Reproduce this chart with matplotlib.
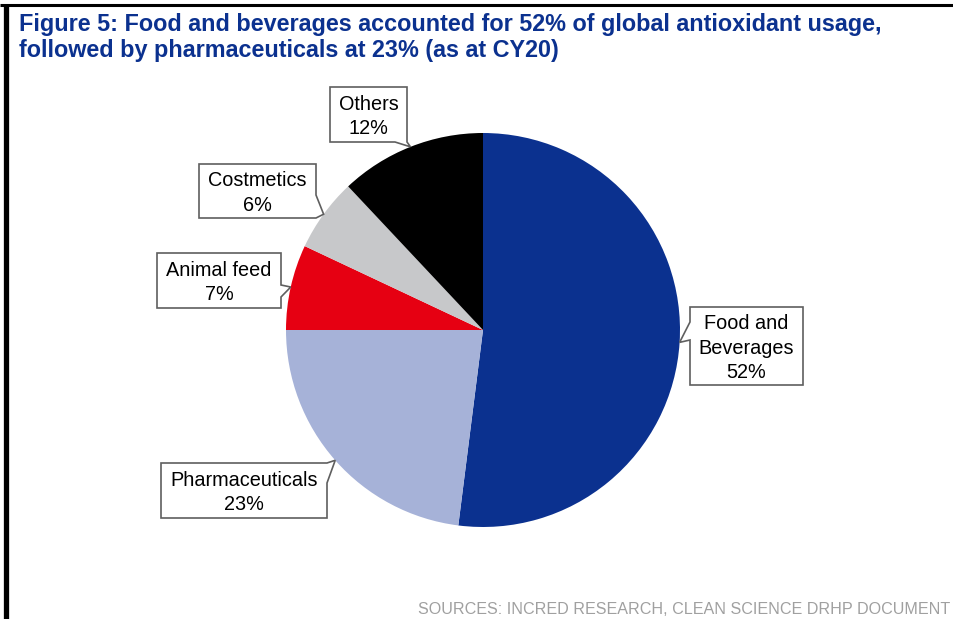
import matplotlib
matplotlib.use("Agg")
import numpy as np
import matplotlib.pyplot as plt
from matplotlib.patches import Polygon

plt.rcParams['font.family'] = ['Liberation Sans', 'DejaVu Sans']

# antioxidant usage by end market, CY20 (%)
segments = ["Food and\nBeverages", "Pharmaceuticals", "Animal feed", "Costmetics", "Others"]
shares = [52, 23, 7, 6, 12]
colors = ["#0B318F", "#A6B2D8", "#E60012", "#C7C8CA", "#000000"]

title_lines = ["Figure 5: Food and beverages accounted for 52% of global antioxidant usage,",
               "followed by pharmaceuticals at 23% (as at CY20)"]
source = "SOURCES: INCRED RESEARCH, CLEAN SCIENCE DRHP DOCUMENT"

W, H = 954, 619

# callout boxes in pixel space (left, top, right, bottom), side with the pointer,
# and where the pointer leaves that side
callouts = [
    ((690, 307, 803, 385), "left", (322, 340)),
    ((161, 463, 327, 518), "right", (463, 483)),
    ((157, 253, 281, 308), "right", (285, 297)),
    ((199, 164, 316, 218), "right", (195, 218)),
    ((330, 87, 407, 142), "bottom", (395, 407)),
]


def Y(y):
    return H - y


fig = plt.figure(figsize=(W / 100, H / 100), dpi=100)
ax = fig.add_axes([0, 0, 1, 1])

wedges, _ = ax.pie(shares, colors=colors, startangle=90, counterclock=False,
                   center=(483, Y(330)), radius=197,
                   wedgeprops=dict(linewidth=0))
ax.set_xlim(0, W)
ax.set_ylim(0, H)
ax.set_aspect("auto")
ax.axis("off")


def callout(box, side, notch, tip, label):
    x0, y0, x1, y1 = box
    a, b = notch
    tx, ty = tip
    if side == "bottom":
        pts = [(x0, y0), (x1, y0), (x1, y1), (b, y1), (tx, ty), (a, y1), (x0, y1)]
    elif side == "right":
        pts = [(x0, y0), (x1, y0), (x1, a), (tx, ty), (x1, b), (x1, y1), (x0, y1)]
    else:
        pts = [(x0, y0), (x1, y0), (x1, y1), (x0, y1), (x0, b), (tx, ty), (x0, a)]
    pts = [(px, Y(py)) for px, py in pts]
    ax.add_patch(Polygon(pts, closed=True, facecolor="white", edgecolor="#5F5F5F",
                         linewidth=1.2, zorder=3))
    ax.text((x0 + x1) / 2, Y((y0 + y1) / 2 + 2), label, ha="center", va="center",
            fontsize=14.3, linespacing=1.38, color="black", zorder=4)


for w, name, share, (box, side, notch) in zip(wedges, segments, shares, callouts):
    # pointer tip sits on the rim at the middle of the slice
    mid = np.deg2rad((w.theta1 + w.theta2) / 2)
    cx, cy = w.center
    tip = (cx + w.r * np.cos(mid), H - (cy + w.r * np.sin(mid)))
    callout(box, side, notch, tip, f"{name}\n{share}%")

# frame lines on the top and left
ax.plot([0, W], [Y(5), Y(5)], color="black", lw=2.2, solid_capstyle="butt")
ax.plot([6.5, 6.5], [Y(4), 0], color="black", lw=3.8, solid_capstyle="butt")

for i, line in enumerate(title_lines):
    ax.text(19, Y(31 + 26 * i), line, ha="left", va="baseline", fontsize=16.8,
            fontweight="bold", color="#0B318F")
ax.text(950, Y(614), source, ha="right", va="baseline", fontsize=11.6, color="#A0A0A0")

fig.savefig("out.png", dpi=100)
